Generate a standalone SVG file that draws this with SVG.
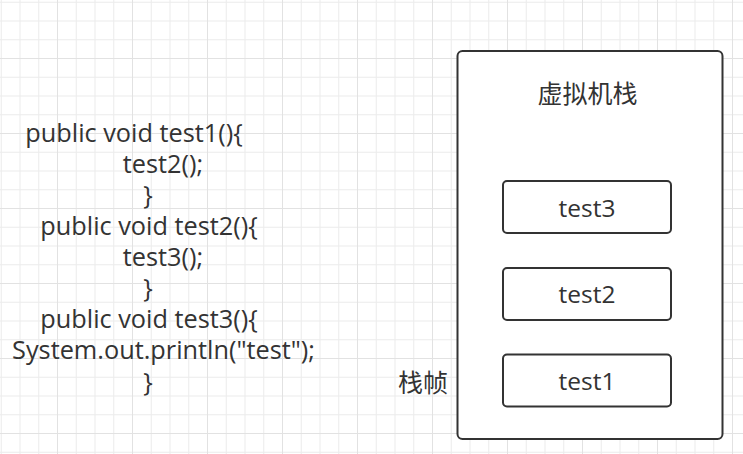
<svg xmlns="http://www.w3.org/2000/svg" width="743" height="454" viewBox="0 0 743 454">
  <style>
    .t { font-family: "Open Sans", "Liberation Sans", "Noto Sans CJK SC", sans-serif; fill: #333333; font-size: 25.3px; }
    .lbl { font-family: "Open Sans", "Liberation Sans", sans-serif; fill: #333333; font-size: 24.5px; }
    .cjk { font-family: "Noto Sans CJK SC", "Open Sans", sans-serif; fill: #333333; font-size: 25px; }
    .box { fill: #ffffff; stroke: #333333; stroke-width: 2; }
  </style>
  <defs>
    <pattern id="grid" patternUnits="userSpaceOnUse" x="57" y="58" width="75" height="75">
      <rect x="0" y="0" width="75" height="75" fill="#ffffff"/>
      <rect x="18.75" y="0" width="1" height="75" fill="#ececec"/>
      <rect x="37.5" y="0" width="1" height="75" fill="#ececec"/>
      <rect x="56.25" y="0" width="1" height="75" fill="#ececec"/>
      <rect x="0" y="18.75" width="75" height="1" fill="#ececec"/>
      <rect x="0" y="37.5" width="75" height="1" fill="#ececec"/>
      <rect x="0" y="56.25" width="75" height="1" fill="#ececec"/>
      <rect x="0" y="0" width="1" height="75" fill="#e2e2e2"/>
      <rect x="0" y="0" width="75" height="1" fill="#e2e2e2"/>
    </pattern>
  </defs>
  <rect x="0" y="0" width="743" height="454" fill="url(#grid)"/>

  <g id="code">
    <text class="t" x="134" y="141.7" text-anchor="middle">public void test1(){</text>
    <text class="t" x="163" y="172.8" text-anchor="middle">test2();</text>
    <text class="t" x="148" y="203.9" text-anchor="middle">}</text>
    <text class="t" x="149" y="235" text-anchor="middle">public void test2(){</text>
    <text class="t" x="163" y="266.1" text-anchor="middle">test3();</text>
    <text class="t" x="148" y="297.2" text-anchor="middle">}</text>
    <text class="t" x="149" y="328.3" text-anchor="middle">public void test3(){</text>
    <text class="t" x="163.5" y="359.4" text-anchor="middle">System.out.println("test");</text>
    <text class="t" x="148" y="390.5" text-anchor="middle">}</text>
  </g>

  <g id="vm-stack">
    <rect class="box" x="457.5" y="51" width="265" height="388" rx="5" ry="5"/>
    <text class="cjk" x="587.5" y="103" text-anchor="middle">虚拟机栈</text>
  </g>

  <g id="frame-test3">
    <rect class="box" x="503" y="181" width="168" height="52" rx="4" ry="4"/>
    <text class="lbl" x="587" y="216.5" text-anchor="middle">test3</text>
  </g>
  <g id="frame-test2">
    <rect class="box" x="503" y="268" width="168" height="52" rx="4" ry="4"/>
    <text class="lbl" x="587" y="303.3" text-anchor="middle">test2</text>
  </g>
  <g id="frame-test1">
    <rect class="box" x="503" y="354.5" width="168" height="52" rx="4" ry="4"/>
    <text class="lbl" x="587" y="389.5" text-anchor="middle">test1</text>
  </g>

  <g id="label-frame">
    <text class="cjk" x="423" y="391.5" text-anchor="middle">栈帧</text>
  </g>

  <g id="connectors"></g>
</svg>
